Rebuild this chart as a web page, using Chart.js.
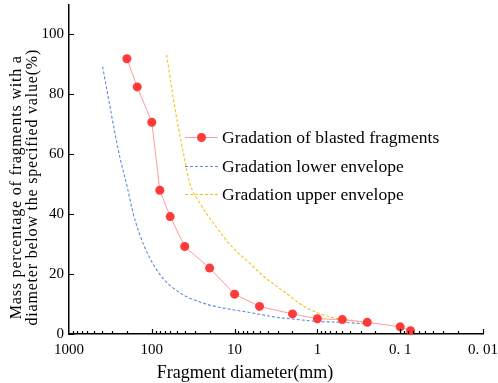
<!DOCTYPE html>
<html>
<head>
<meta charset="utf-8">
<script src="https://cdn.jsdelivr.net/npm/chart.js@4.4.1/dist/chart.umd.min.js"></script>
<style>
  html, body { margin: 0; padding: 0; background: #fff; }
  #wrap { width: 498px; height: 383px; }
</style>
</head>
<body>
<div id="wrap"><canvas id="chart" width="498" height="383"></canvas></div>
<script>
// ---------- data ----------
// measured gradation of blasted fragments
const blastSize = [200, 150, 100, 80, 60, 40, 20, 10, 5, 2, 1, 0.5, 0.25, 0.1, 0.075];
const blastPass = [91.9, 82.5, 70.7, 48.0, 39.2, 29.2, 22.0, 13.3, 9.2, 6.7, 5.1, 4.8, 3.9, 2.4, 1.1];

// lower envelope (blue dashed)
const lowerSize = [393, 318, 252, 197, 167, 121, 80, 46, 22, 11.5, 6.6, 3.5, 2, 1, 0.5, 0.24];
const lowerPass = [89.3, 75.5, 61.0, 48.8, 40.0, 28.8, 19.9, 13.8, 10.0, 8.3, 7.2, 5.8, 5.0, 4.2, 3.9, 3.3];

// upper envelope (yellow dashed)
const upperSize = [66.2, 52.7, 41.9, 34.8, 26.4, 17.4, 10.5, 6.6, 4.4, 2.6, 1.38, 0.66, 0.35, 0.29];
const upperPass = [93.2, 75.5, 61.0, 50.4, 43.8, 36.4, 28.8, 23.7, 19.1, 14.4, 8.9, 5.5, 4.4, 3.9];

// axis ticks
const xTickValues = [1000, 100, 10, 1, 0.1, 0.01];
const xTickLabels = ['1000', '100', '10', '1', '0. 1', '0. 01'];
const yTickValues = [0, 20, 40, 60, 80, 100];

const seriesLabels = [
  'Gradation of blasted fragments',
  'Gradation lower envelope',
  'Gradation upper envelope'
];
const yTitleLines = ['Mass percentage of fragments with a', 'diameter below the specified value(%)'];
const xTitle = 'Fragment diameter(mm)';

const SERIF = '"Liberation Serif", "Times New Roman", serif';
const RED = '#ff3a3a';
const RED_LINE = '#ff9a9a';
const BLUE = '#5a8ddb';
const YELLOW = '#f2c417';

function pts(xs, ys) { return xs.map((x, i) => ({ x: x, y: ys[i] })); }

// ---------- plugin: inward ticks, legend, axis titles ----------
const decorPlugin = {
  id: 'decor',
  afterDraw(chart) {
    const ctx = chart.ctx;
    const xs = chart.scales.x, ys = chart.scales.y;
    const area = chart.chartArea;
    ctx.save();
    ctx.strokeStyle = '#000';
    ctx.lineWidth = 1.2;
    ctx.beginPath();
    // x ticks: majors at decades, minors at 2..9
    for (let e = -2; e <= 2; e++) {
      for (let m = 1; m <= 9; m++) {
        const px = Math.round(xs.getPixelForValue(m * Math.pow(10, e))) + 0.5;
        const len = m === 1 ? 5 : 3;
        ctx.moveTo(px, area.bottom);
        ctx.lineTo(px, area.bottom - len);
      }
    }
    // y ticks
    yTickValues.forEach(v => {
      const py = Math.round(ys.getPixelForValue(v)) + 0.5;
      ctx.moveTo(area.left, py);
      ctx.lineTo(area.left + 5, py);
    });
    ctx.stroke();

    // legend
    const ds = chart.data.datasets;
    const legY = [137, 166, 194];
    const lx0 = 185, lx1 = 218, tx = 222;
    ctx.font = '17.5px ' + SERIF;
    ctx.textBaseline = 'middle';
    ctx.textAlign = 'left';
    ds.forEach((d, i) => {
      const y = legY[i];
      ctx.strokeStyle = d.borderColor;
      ctx.lineWidth = 1;
      ctx.setLineDash(d.borderDash || []);
      ctx.beginPath();
      ctx.moveTo(lx0, y + 0.5);
      ctx.lineTo(lx1, y + 0.5);
      ctx.stroke();
      ctx.setLineDash([]);
      if (d.pointRadius > 0) {
        ctx.fillStyle = d.pointBackgroundColor;
        ctx.beginPath();
        ctx.arc((lx0 + lx1) / 2, y + 0.5, d.pointRadius, 0, Math.PI * 2);
        ctx.fill();
      }
      ctx.fillStyle = '#000';
      ctx.fillText(d.label, tx, y + 1);
    });

    // x axis title
    ctx.font = '18px ' + SERIF;
    ctx.textAlign = 'center';
    ctx.textBaseline = 'middle';
    ctx.fillText(xTitle, 245, 373);

    // y axis title, roughly centred on the 0..100 span
    const cy = (ys.getPixelForValue(0) + ys.getPixelForValue(100)) / 2 + 3;
    const baseX = [21, 37];
    ctx.font = '16px ' + SERIF;
    ctx.letterSpacing = '0.8px';
    ctx.textAlign = 'center';
    ctx.textBaseline = 'alphabetic';
    yTitleLines.forEach((t, i) => {
      ctx.save();
      ctx.translate(baseX[i], cy);
      ctx.rotate(-Math.PI / 2);
      ctx.fillText(t, 0, 0);
      ctx.restore();
    });
    ctx.letterSpacing = '0px';
    ctx.restore();
  }
};

const chart = new Chart(document.getElementById('chart'), {
  type: 'line',
  data: {
    datasets: [
      {
        label: seriesLabels[0],
        data: pts(blastSize, blastPass),
        borderColor: RED_LINE,
        borderWidth: 1,
        pointRadius: 4.5,
        pointBackgroundColor: RED,
        pointBorderColor: RED,
        pointBorderWidth: 0,
        tension: 0,
        clip: false
      },
      {
        label: seriesLabels[1],
        data: pts(lowerSize, lowerPass),
        borderColor: BLUE,
        borderWidth: 1.1,
        borderDash: [3, 2],
        pointRadius: 0,
        cubicInterpolationMode: 'monotone'
      },
      {
        label: seriesLabels[2],
        data: pts(upperSize, upperPass),
        borderColor: YELLOW,
        borderWidth: 1.1,
        borderDash: [3, 2],
        pointRadius: 0,
        cubicInterpolationMode: 'monotone'
      }
    ]
  },
  options: {
    responsive: false,
    animation: false,
    devicePixelRatio: 1,
    layout: { padding: { top: 3, right: 15, left: 0, bottom: 0 } },
    plugins: { legend: { display: false }, tooltip: { enabled: false } },
    scales: {
      x: {
        type: 'logarithmic',
        reverse: true,
        min: 0.01,
        max: 1000,
        grid: { display: false, drawTicks: false },
        border: { display: true, color: '#000', width: 1.5 },
        afterBuildTicks: s => { s.ticks = xTickValues.map(v => ({ value: v })); },
        afterFit: s => { s.height = 49; s.paddingLeft = 0; s.paddingRight = 0; },
        ticks: {
          autoSkip: false,
          maxRotation: 0,
          padding: 7,
          color: '#000',
          font: { family: SERIF, size: 15 },
          callback: (v) => {
            const i = xTickValues.findIndex(t => Math.abs(t - v) < 1e-9);
            return i >= 0 ? xTickLabels[i] : '';
          }
        },
        title: { display: false }
      },
      y: {
        min: 0,
        max: 110,
        grid: { display: false, drawTicks: false },
        border: { display: true, color: '#000', width: 1.5 },
        afterBuildTicks: s => { s.ticks = yTickValues.map(v => ({ value: v })); },
        afterFit: s => { s.width = 69; s.paddingTop = 0; s.paddingBottom = 0; },
        ticks: {
          padding: 5,
          color: '#000',
          font: { family: SERIF, size: 15 }
        }
      }
    }
  },
  plugins: [decorPlugin]
});
</script>
</body>
</html>
